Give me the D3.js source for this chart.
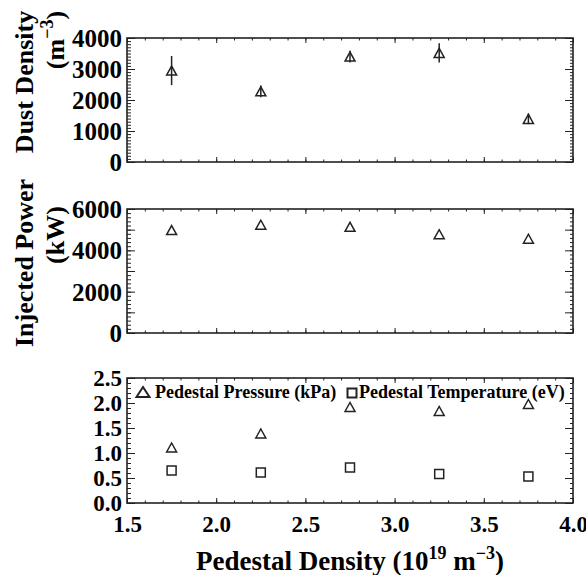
<!DOCTYPE html>
<html>
<head>
  <meta charset="utf-8">
  <title>Pedestal density scan</title>
  <script src="https://d3js.org/d3.v7.min.js"></script>
  <style>
    body { margin: 0; background: #fff; }
    text { font-family: "Liberation Serif", "Times New Roman", serif; font-weight: bold; fill: #000; }
    .frame { fill: none; stroke: #222; stroke-width: 1.6px; }
    .tk line { stroke: #222; stroke-width: 1px; }
    .tk path { display: none; }
    .sym { fill: none; stroke: #222; stroke-width: 1.5px; }
  </style>
</head>
<body>
<script>
// x values (pedestal density, 1e19 m^-3)
var density = [1.75, 2.25, 2.75, 3.25, 3.75];
var xTicks = [1.5, 2.0, 2.5, 3.0, 3.5, 4.0];
var xTickLabels = ["1.5", "2.0", "2.5", "3.0", "3.5", "4.0"];

// top panel
var dust = [2950, 2280, 3400, 3520, 1390];
var dustErr = [470, 190, 190, 310, 170];
var dustTicks = [0, 1000, 2000, 3000, 4000];

// middle panel
var power = [4980, 5240, 5140, 4780, 4560];
var powerTicks = [0, 2000, 4000, 6000];

// bottom panel
var pressure = [1.11, 1.39, 1.92, 1.84, 1.98];
var temperature = [0.65, 0.61, 0.71, 0.58, 0.53];
var pedTicks = [0, 0.5, 1.0, 1.5, 2.0, 2.5];
var pedTickLabels = ["0.0", "0.5", "1.0", "1.5", "2.0", "2.5"];

var W = 586, H = 575;
var left = 127, right = 573;

var svg = d3.select("body").append("svg")
    .attr("width", W)
    .attr("height", H);

svg.append("rect").attr("width", W).attr("height", H).attr("fill", "#fff");

var x = d3.scaleLinear().domain([1.5, 4.0]).range([left, right]);

function range(a, b, step) {
  var out = [];
  var n = Math.round((b - a) / step);
  for (var i = 0; i <= n; i++) out.push(+(a + i * step).toFixed(4));
  return out;
}

var xMinor = range(1.5, 4.0, 0.1);
var xMajor = xTicks;

var tri = "M-5,4.5L0,-4.5L5,4.5Z";
var sq = "M-4.5,-4.5H4.5V4.5H-4.5Z";

function panel(top, bottom, domain, minorStep, majorStep, labels, labelText, fontSize) {
  var y = d3.scaleLinear().domain(domain).range([bottom, top]);
  var g = svg.append("g");
  var yMinor = range(domain[0], domain[1], minorStep);
  var yMajor = range(domain[0], domain[1], majorStep);

  // x ticks, bottom and top, pointing inward
  g.append("g").attr("class", "tk").attr("transform", "translate(0," + bottom + ")")
      .call(d3.axisBottom(x).tickValues(xMinor).tickSize(-2.5).tickFormat(""));
  g.append("g").attr("class", "tk").attr("transform", "translate(0," + bottom + ")")
      .call(d3.axisBottom(x).tickValues(xMajor).tickSize(-5).tickFormat(""));
  g.append("g").attr("class", "tk").attr("transform", "translate(0," + top + ")")
      .call(d3.axisTop(x).tickValues(xMinor).tickSize(-2.5).tickFormat(""));
  g.append("g").attr("class", "tk").attr("transform", "translate(0," + top + ")")
      .call(d3.axisTop(x).tickValues(xMajor).tickSize(-5).tickFormat(""));

  // y ticks, left and right
  g.append("g").attr("class", "tk").attr("transform", "translate(" + left + ",0)")
      .call(d3.axisLeft(y).tickValues(yMinor).tickSize(-4).tickFormat(""));
  g.append("g").attr("class", "tk").attr("transform", "translate(" + left + ",0)")
      .call(d3.axisLeft(y).tickValues(yMajor).tickSize(-8).tickFormat(""));
  g.append("g").attr("class", "tk").attr("transform", "translate(" + right + ",0)")
      .call(d3.axisRight(y).tickValues(yMinor).tickSize(-3).tickFormat(""));
  g.append("g").attr("class", "tk").attr("transform", "translate(" + right + ",0)")
      .call(d3.axisRight(y).tickValues(yMajor).tickSize(-8).tickFormat(""));

  // tick labels
  var lab = g.append("g").attr("class", "tk").attr("transform", "translate(" + left + ",0)")
      .call(d3.axisLeft(y).tickValues(labels).tickSize(0).tickPadding(5)
        .tickFormat(function(d, i) { return labelText[i]; }));
  lab.selectAll("text").style("font-size", fontSize + "px").attr("dy", "0.34em");

  g.append("rect").attr("class", "frame")
      .attr("x", left).attr("y", top)
      .attr("width", right - left).attr("height", bottom - top);

  return {g: g, y: y};
}

// ---- top panel: dust density
var p1 = panel(38, 162, [0, 4000], 100, 1000, dustTicks, dustTicks.map(String), 25);
p1.g.selectAll(".err").data(density).enter().append("line")
    .attr("class", "sym")
    .attr("x1", function(d) { return x(d); })
    .attr("x2", function(d) { return x(d); })
    .attr("y1", function(d, i) { return p1.y(dust[i] - dustErr[i]); })
    .attr("y2", function(d, i) { return p1.y(dust[i] + dustErr[i]); });
p1.g.selectAll(".pt").data(density).enter().append("path")
    .attr("class", "sym")
    .attr("d", tri)
    .attr("transform", function(d, i) { return "translate(" + x(d) + "," + p1.y(dust[i]) + ")"; });

// ---- middle panel: injected power
var p2 = panel(209, 333, [0, 6000], 200, 1000, powerTicks, powerTicks.map(String), 25);
p2.g.selectAll(".pt").data(density).enter().append("path")
    .attr("class", "sym")
    .attr("d", tri)
    .attr("transform", function(d, i) { return "translate(" + x(d) + "," + p2.y(power[i]) + ")"; });

// ---- bottom panel: pedestal pressure / temperature
var p3 = panel(378, 503, [0, 2.5], 0.1, 0.5, pedTicks, pedTickLabels, 23);
p3.g.selectAll(".pp").data(density).enter().append("path")
    .attr("class", "sym")
    .attr("d", tri)
    .attr("transform", function(d, i) { return "translate(" + x(d) + "," + p3.y(pressure[i]) + ")"; });
p3.g.selectAll(".pt").data(density).enter().append("path")
    .attr("class", "sym")
    .attr("d", sq)
    .attr("transform", function(d, i) { return "translate(" + x(d) + "," + p3.y(temperature[i]) + ")"; });

// x tick labels
var xl = svg.append("g").attr("class", "tk").attr("transform", "translate(0,503)")
    .call(d3.axisBottom(x).tickValues(xTicks).tickSize(0)
      .tickFormat(function(d, i) { return xTickLabels[i]; }));
xl.selectAll("text").style("font-size", "23px").attr("y", 29).attr("dy", 0);

// legend
svg.append("path").attr("class", "sym").style("stroke-width", "2px")
    .attr("d", "M-6.5,5L0,-5L6.5,5Z")
    .attr("transform", "translate(143,392)");
svg.append("text").attr("x", 155).attr("y", 398).style("font-size", "18px")
    .text("Pedestal Pressure (kPa)");
svg.append("path").attr("class", "sym").style("stroke-width", "2px")
    .attr("d", sq)
    .attr("transform", "translate(352,393)");
svg.append("text").attr("x", 359).attr("y", 398).style("font-size", "18px")
    .text("Pedestal Temperature (eV)");

// axis titles
svg.append("text")
    .attr("transform", "translate(33,82) rotate(-90)")
    .attr("text-anchor", "middle").style("font-size", "26px")
    .text("Dust Density");
var t1 = svg.append("text")
    .attr("transform", "translate(64,40) rotate(-90)")
    .attr("text-anchor", "middle").style("font-size", "26px");
t1.append("tspan").text("(m");
t1.append("tspan").attr("dy", -11).style("font-size", "18px").text("\u22123");
t1.append("tspan").attr("dy", 11).text(")");

svg.append("text")
    .attr("transform", "translate(33,263) rotate(-90)")
    .attr("text-anchor", "middle").style("font-size", "26px")
    .text("Injected Power");
svg.append("text")
    .attr("transform", "translate(64,235) rotate(-90)")
    .attr("text-anchor", "middle").style("font-size", "26px")
    .text("(kW)");

var xt = svg.append("text")
    .attr("x", (left + right) / 2).attr("y", 570)
    .attr("text-anchor", "middle").style("font-size", "27px");
xt.append("tspan").text("Pedestal Density (10");
xt.append("tspan").attr("dy", -11).style("font-size", "18px").text("19");
xt.append("tspan").attr("dy", 11).text(" m");
xt.append("tspan").attr("dy", -11).style("font-size", "18px").text("\u22123");
xt.append("tspan").attr("dy", 11).text(")");
</script>
</body>
</html>
